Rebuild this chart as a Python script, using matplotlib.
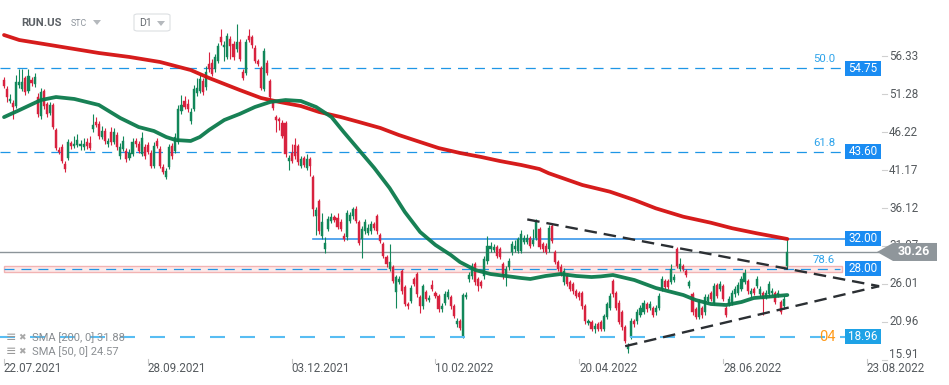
import matplotlib
matplotlib.use("Agg")
import matplotlib.pyplot as plt
import matplotlib.transforms as mtransforms
from matplotlib.patches import Polygon, Rectangle, FancyBboxPatch
import numpy as np

plt.rcParams['font.family'] = ['Roboto', 'DejaVu Sans']
plt.rcParams['lines.scale_dashes'] = False

# ---------------- data (daily candles RUN.US) ----------------
opens = [53.2, 52.0, 50.4, 50.1, 49.7, 52.5, 52.0, 53.4, 51.7, 53.2, 52.6, 50.9, 48.4, 51.7, 50.0, 48.8,
         49.8, 46.5, 43.8, 44.2, 42.0, 42.8, 44.8, 44.4, 44.5, 44.4, 44.2, 44.9, 44.8, 46.6, 47.6, 47.3,
         45.6, 46.4, 44.7, 46.3, 44.9, 45.9, 43.0, 44.0, 43.7, 42.8, 43.3, 45.0, 44.6, 43.3, 44.2, 44.5,
         43.5, 41.7, 45.0, 44.0, 41.6, 40.2, 41.6, 44.4, 43.7, 44.9, 49.0, 50.4, 50.0, 47.7, 49.3, 51.4,
         51.7, 53.0, 52.2, 55.3, 55.5, 54.6, 55.7, 58.9, 57.6, 56.3, 58.7, 58.0, 57.3, 58.2, 54.3, 54.1,
         59.0, 58.9, 57.5, 55.7, 54.8, 52.0, 55.5, 53.0, 50.2, 48.2, 48.0, 47.5, 47.4, 42.4, 43.5, 44.5,
         44.4, 41.7, 42.8, 41.5, 42.6, 40.2, 35.0, 37.0, 32.4, 30.6, 33.3, 34.4, 34.9, 34.8, 34.3, 32.4,
         32.2, 34.4, 35.0, 36.0, 34.2, 32.0, 33.0, 32.8, 33.0, 34.0, 35.0, 32.5, 31.3, 29.6, 28.0, 28.2,
         24.9, 26.3, 27.7, 25.6, 23.3, 23.7, 26.6, 27.3, 24.2, 23.0, 24.9, 23.9, 25.8, 24.8, 24.4, 22.6,
         23.5, 24.3, 24.2, 23.0, 20.6, 21.0, 19.0, 24.3, 26.6, 27.0, 28.6, 26.6, 26.2, 27.0, 29.0, 30.6,
         30.5, 30.9, 30.6, 28.6, 27.0, 28.2, 30.2, 30.6, 30.4, 30.4, 31.6, 31.6, 32.1, 31.3, 32.1, 33.3,
         31.3, 31.0, 30.6, 33.7, 30.2, 28.9, 28.3, 26.2, 27.0, 26.2, 26.0, 25.0, 24.8, 24.8, 23.0, 20.8,
         20.9, 20.0, 20.6, 20.9, 20.0, 21.6, 22.8, 26.4, 24.8, 23.5, 22.2, 20.2, 17.3, 18.9, 21.0, 21.0,
         21.9, 22.3, 23.3, 22.8, 22.8, 22.2, 22.8, 25.3, 26.4, 26.4, 26.3, 26.5, 30.6, 28.0, 28.4, 27.7,
         25.7, 24.6, 22.6, 21.6, 22.8, 22.2, 23.7, 24.8, 23.5, 25.8, 25.3, 25.7, 22.8, 23.3, 23.5, 24.6,
         24.8, 25.3, 26.3, 26.4, 24.6, 25.3, 25.7, 24.6, 24.8, 24.3, 24.6, 24.8, 24.8, 24.5, 23.6, 23.0,
         28.4]
closes = [52.4, 50.9, 50.7, 49.6, 52.9, 52.9, 52.9, 51.6, 53.7, 52.8, 53.6, 48.6, 51.6, 49.7, 48.6, 49.8,
          46.9, 44.1, 43.6, 42.4, 41.3, 44.9, 44.4, 44.7, 45.2, 44.7, 44.7, 44.4, 44.1, 47.2, 47.2, 45.7,
          46.4, 45.0, 45.0, 44.9, 46.2, 44.2, 44.2, 45.0, 42.6, 43.5, 44.9, 44.6, 43.7, 45.5, 43.0, 43.6,
          41.7, 44.4, 44.4, 41.7, 40.9, 41.0, 44.2, 43.0, 45.6, 49.3, 49.8, 49.6, 49.3, 48.9, 52.0, 52.1,
          53.3, 51.6, 54.2, 54.6, 54.0, 56.2, 57.7, 58.2, 57.9, 59.0, 57.7, 56.2, 58.2, 56.0, 53.5, 58.2,
          58.5, 57.9, 55.7, 55.3, 52.1, 57.0, 54.1, 50.9, 49.5, 47.8, 47.7, 45.7, 43.3, 42.8, 42.4, 43.0,
          42.2, 42.6, 41.9, 42.6, 41.7, 36.0, 35.8, 33.0, 34.2, 31.5, 34.6, 34.9, 34.5, 33.6, 33.3, 32.0,
          35.4, 35.2, 36.0, 34.4, 31.5, 33.3, 34.3, 33.5, 34.0, 33.5, 33.0, 31.7, 29.7, 28.6, 28.9, 26.4,
          26.9, 26.6, 25.0, 23.3, 23.0, 25.5, 26.0, 24.6, 23.0, 25.7, 24.0, 24.1, 25.3, 24.4, 22.6, 23.0,
          24.6, 24.9, 23.0, 21.7, 21.1, 20.1, 24.5, 24.5, 27.2, 28.4, 26.2, 25.7, 25.7, 29.3, 31.0, 31.0,
          30.9, 29.7, 29.6, 27.0, 28.0, 29.0, 31.3, 31.0, 32.0, 32.6, 32.1, 32.1, 31.1, 31.9, 34.2, 30.9,
          30.6, 30.3, 33.5, 31.7, 28.9, 28.0, 27.3, 27.7, 26.0, 25.3, 25.0, 24.4, 24.2, 23.0, 21.0, 21.0,
          20.0, 20.4, 20.0, 20.0, 21.7, 23.3, 24.4, 24.6, 22.8, 20.9, 20.2, 18.4, 17.7, 21.0, 20.6, 22.2,
          22.8, 23.5, 22.6, 23.3, 21.9, 22.8, 24.4, 26.6, 25.6, 25.6, 28.0, 26.9, 28.4, 28.6, 28.0, 27.2,
          26.2, 22.2, 21.6, 23.6, 21.8, 24.2, 24.2, 24.0, 25.7, 24.4, 26.0, 24.0, 21.9, 24.0, 24.8, 25.3,
          25.9, 26.6, 27.5, 25.0, 25.0, 24.8, 26.6, 25.3, 24.0, 24.8, 26.0, 25.0, 23.6, 24.8, 22.3, 24.0,
          30.26]
highs = [53.6, 52.4, 51.3, 50.5, 53.9, 54.6, 54.6, 53.7, 54.6, 53.6, 54.1, 51.5, 52.1, 52.0, 50.3, 50.2,
         50.1, 46.8, 44.2, 44.6, 42.4, 45.3, 45.1, 45.7, 46.0, 45.2, 45.4, 45.5, 45.7, 48.6, 48.2, 47.7,
         47.0, 46.8, 45.5, 46.9, 46.8, 46.3, 44.8, 45.7, 44.1, 44.0, 45.5, 45.5, 45.0, 46.2, 44.6, 44.9,
         43.9, 44.9, 45.4, 44.4, 42.0, 41.5, 44.7, 44.8, 46.1, 49.8, 51.2, 51.0, 50.6, 49.4, 52.5, 53.4,
         53.8, 53.4, 55.1, 56.9, 56.0, 56.6, 58.1, 60.0, 58.4, 59.4, 59.1, 58.4, 60.6, 58.6, 54.6, 58.6,
         60.0, 59.2, 57.8, 56.0, 55.1, 57.4, 55.9, 53.3, 50.5, 48.5, 48.3, 47.8, 47.7, 43.2, 44.6, 45.5,
         44.7, 43.0, 43.1, 43.3, 42.9, 40.5, 36.2, 37.3, 35.5, 32.2, 35.0, 35.4, 35.2, 35.4, 34.7, 32.8,
         35.8, 35.6, 36.3, 36.4, 34.5, 33.7, 34.7, 34.0, 34.4, 34.3, 35.3, 32.8, 31.6, 29.9, 31.3, 28.5,
         27.2, 27.0, 28.0, 25.9, 23.6, 25.9, 26.9, 27.6, 24.5, 26.0, 25.2, 24.5, 26.5, 25.1, 24.7, 23.4,
         25.0, 25.3, 24.5, 23.3, 21.5, 21.3, 24.8, 24.9, 27.6, 28.8, 28.9, 26.9, 26.5, 29.7, 32.4, 31.6,
         31.3, 31.2, 30.9, 28.9, 28.4, 29.4, 31.7, 31.8, 32.3, 33.2, 32.5, 32.6, 32.4, 33.3, 34.6, 33.6,
         31.6, 31.4, 33.8, 34.0, 30.5, 29.2, 28.6, 28.1, 27.3, 26.5, 26.3, 25.3, 25.1, 25.1, 23.3, 21.3,
         21.2, 20.8, 20.9, 21.2, 22.0, 23.6, 24.8, 26.7, 25.1, 23.8, 22.5, 20.5, 18.1, 21.4, 21.3, 22.6,
         23.2, 23.9, 23.6, 23.7, 23.1, 23.2, 24.8, 27.0, 26.7, 26.7, 28.7, 27.3, 30.9, 29.4, 28.7, 28.0,
         26.5, 24.9, 22.9, 24.0, 23.1, 24.6, 24.6, 25.1, 26.1, 26.1, 26.4, 26.0, 23.1, 24.4, 25.2, 25.7,
         26.3, 27.0, 28.0, 26.7, 25.4, 25.6, 27.0, 25.7, 25.1, 25.2, 26.4, 25.4, 25.1, 25.2, 23.9, 24.4,
         32.0]
lows = [52.1, 50.2, 50.1, 48.0, 49.4, 52.1, 51.7, 51.2, 51.4, 52.4, 52.3, 48.3, 48.0, 49.3, 48.2, 48.5,
        46.6, 43.9, 43.3, 42.1, 40.9, 42.5, 44.0, 44.1, 44.2, 43.9, 43.8, 44.0, 43.8, 46.3, 46.9, 45.3,
        45.3, 44.6, 44.2, 44.5, 44.6, 43.9, 42.7, 43.7, 42.3, 42.5, 43.0, 44.3, 43.4, 43.0, 42.7, 43.3,
        41.4, 41.4, 44.1, 41.4, 40.6, 40.0, 41.3, 42.7, 43.4, 44.6, 48.7, 49.3, 48.9, 47.3, 49.0, 51.1,
        51.4, 51.2, 51.9, 54.3, 53.7, 54.3, 55.4, 57.8, 55.7, 56.0, 56.0, 55.9, 56.9, 55.7, 53.2, 53.8,
        58.2, 57.5, 55.4, 55.0, 51.8, 51.7, 53.8, 50.6, 49.2, 46.3, 46.5, 45.4, 42.9, 41.2, 42.1, 42.7,
        41.9, 41.4, 41.6, 41.2, 40.4, 35.0, 32.5, 32.6, 32.0, 30.1, 33.0, 34.1, 34.2, 33.3, 33.0, 31.7,
        31.9, 34.1, 34.7, 34.1, 31.2, 29.4, 32.7, 32.5, 32.7, 33.2, 32.7, 31.4, 29.4, 28.3, 27.7, 26.1,
        22.8, 26.0, 24.7, 23.0, 22.7, 23.4, 25.7, 24.3, 22.1, 22.7, 23.7, 23.6, 25.0, 24.1, 22.3, 22.3,
        23.2, 24.0, 22.7, 21.4, 20.3, 19.8, 18.8, 24.0, 26.3, 26.7, 25.9, 25.0, 25.4, 26.7, 28.7, 30.3,
        30.2, 29.4, 29.3, 26.7, 25.7, 27.9, 29.9, 30.3, 30.1, 30.1, 31.3, 31.3, 30.8, 31.0, 31.8, 30.6,
        30.3, 30.0, 30.3, 31.4, 28.6, 27.7, 27.0, 25.9, 25.7, 25.0, 24.7, 24.1, 23.9, 22.7, 20.7, 20.5,
        19.7, 19.5, 19.7, 19.7, 19.7, 21.3, 22.5, 24.3, 22.5, 20.6, 19.9, 18.1, 16.8, 18.6, 20.3, 20.7,
        21.6, 22.0, 22.3, 22.5, 21.6, 21.9, 22.5, 25.0, 25.3, 25.3, 26.0, 26.2, 28.1, 27.7, 27.7, 26.9,
        25.4, 21.9, 21.3, 21.3, 21.5, 21.9, 23.4, 23.7, 23.2, 24.1, 25.0, 23.7, 21.6, 23.0, 23.2, 24.3,
        24.5, 25.0, 26.0, 24.7, 24.3, 24.5, 25.4, 24.3, 21.9, 24.0, 24.3, 24.5, 23.3, 24.2, 22.0, 22.7,
        28.0]

sma200_bar = [0, 5, 15, 31, 41, 51, 61, 67, 77, 84, 90, 97, 103, 110, 116, 123, 129, 136, 142, 149,
              156, 162, 169, 175, 178, 189, 198, 206, 213, 222, 231, 238, 246, 256]
sma200_val = [59.19, 58.52, 57.86, 56.79, 56.26, 55.59, 54.52, 53.46, 51.86, 50.79, 50.26, 49.72, 48.92,
              48.26, 47.59, 46.79, 45.86, 44.92, 44.12, 43.46, 42.92, 42.39, 41.86, 41.32, 40.76, 39.19,
              38.30, 37.19, 36.08, 34.96, 34.16, 33.42, 32.75, 31.99]
sma50_bar = [0, 5, 12, 17, 23, 31, 38, 44, 49, 53, 56, 61, 64, 67, 72, 77, 82, 87, 92, 97, 102, 107,
             111, 116, 121, 126, 131, 136, 141, 146, 149, 154, 159, 164, 169, 172, 177, 182, 187, 192,
             195, 199, 206, 213, 222, 226, 231, 236, 241, 245, 250, 256]
sma50_val = [48.24, 49.17, 50.51, 50.92, 50.66, 49.86, 48.12, 46.92, 46.39, 45.59, 45.19, 45.06, 45.59,
             46.52, 47.86, 48.66, 49.59, 50.26, 50.52, 50.39, 49.59, 48.26, 46.26, 43.86, 41.46, 38.79,
             35.59, 32.92, 31.19, 29.86, 28.92, 27.86, 27.32, 27.06, 26.79, 26.66, 27.06, 27.32, 27.06,
             26.92, 27.00, 27.19, 26.52, 25.46, 24.52, 23.86, 23.32, 23.19, 23.59, 24.12, 24.30, 24.52]

price_ticks = [56.33, 51.28, 46.22, 41.17, 36.12, 31.07, 26.01, 20.96, 15.91]
date_labels = ['22.07.2021', '28.09.2021', '03.12.2021', '10.02.2022', '20.04.2022', '28.06.2022', '23.08.2022']
date_bars = [0, 47, 94, 141, 188, 235, 282]

fib_levels = [54.75, 43.60, 28.00]
fib_names = ['50.0', '61.8', '78.6']
resistance = 32.00
support = 18.96
last_price = 30.26
band_low, band_high = 27.63, 28.43
upper_trend_bar = [171, 286]
upper_trend_val = [34.6, 25.7]
lower_trend_bar = [203, 286]
lower_trend_val = [17.7, 25.7]
sma_legend = ['SMA [200, 0] 31.88', 'SMA [50, 0] 24.57']

# ---------------- colours ----------------
GREEN = '#12875a'
RED = '#d8223f'
SMA200_C = '#d40f0f'
SMA50_C = '#0b7a4c'
BLUE_D = '#1e96e6'
BOX_C = '#1a8cf2'
SUPPORT_C = '#58bdf3'
GRAY = '#8c9499'
TXT = '#555a5e'

W, H = 949, 385
fig = plt.figure(figsize=(W / 100, H / 100), dpi=100)
fig.patch.set_facecolor('white')
ax = fig.add_axes([0, 0, 1, 1])
ax.set_axis_off()

# pixel mapping: bar k at x = 4 + 3.06 k ; price p at y = 68.3 + (54.75 - p) * 7.5
ax.set_xlim(-4 / 3.06, (W - 4) / 3.06)
ax.set_ylim(54.75 - (H - 68.3) / 7.5, 54.75 + 68.3 / 7.5)

def fx(px):
    return px / W

def fy(py):
    return 1 - py / H

bt = mtransforms.blended_transform_factory(ax.transAxes, ax.transData)

# ---------------- horizontal levels ----------------
ax.add_patch(Rectangle((fx(4), band_low), fx(842) - fx(4), band_high - band_low, transform=bt,
                       facecolor='#fde9e9', edgecolor='#f2b3b3', lw=1.0, zorder=1))
for lev in fib_levels:
    x_end = 840 if lev == fib_levels[-1] else 843
    x_start = 4 if lev == fib_levels[-1] else 0
    ax.axhline(lev, xmin=fx(x_start), xmax=fx(x_end), color=BLUE_D, lw=0.9,
               dashes=(7.2, 5.0), zorder=1.5)
ax.axhline(support, xmin=0, xmax=fx(845), color=SUPPORT_C, lw=1.5, dashes=(10.8, 10.8), zorder=6)
ax.axhline(resistance, xmin=fx(313), xmax=fx(845), color='#3b97ea', lw=1.2, zorder=1.5)
ax.axhline(last_price, xmin=0, xmax=fx(878), color=GRAY, lw=1.0, zorder=1.6)

# ---------------- candles ----------------
o = np.array(opens)
c = np.array(closes)
hi = np.array(highs)
lo = np.array(lows)
k = np.arange(len(c))
cols = np.where(c >= o, GREEN, RED)
ax.vlines(k, lo, hi, colors=cols, lw=0.8, zorder=3)
body_bottom = np.minimum(o, c)
body_h = np.maximum(np.abs(c - o), 0.15)
ax.bar(k, body_h, bottom=body_bottom, width=0.68, color=cols, edgecolor=cols, lw=0.3, zorder=4)

# ---------------- moving averages ----------------
ax.plot(sma200_bar, sma200_val, color=SMA200_C, lw=2.7, solid_capstyle='round', zorder=5, alpha=0.95)
ax.plot(sma50_bar, sma50_val, color=SMA50_C, lw=2.7, solid_capstyle='round', zorder=5, alpha=0.95)

# ---------------- trend lines ----------------
ax.plot(upper_trend_bar, upper_trend_val, color='#2b2f33', lw=1.7, dashes=(9, 5), zorder=6)
ax.plot(lower_trend_bar, lower_trend_val, color='#2b2f33', lw=1.7, dashes=(9, 5), zorder=6)

# ---------------- right side labels ----------------
for p in price_ticks:
    dy = ax.transData.transform((0, p))[1]
    off = max(0, 31 - dy) * 72 / 100
    ax.annotate(f'{p:.2f}', xy=(fx(889), p), xycoords=bt, xytext=(0, off), textcoords='offset points',
                ha='left', va='center', fontsize=8.4, color=TXT, zorder=2)
    ax.plot([fx(882), fx(887)], [p, p], transform=bt, color='#d0d0d0', lw=0.8, zorder=2)

def level_box(val, color):
    hgt = 15 / 7.5
    ax.add_patch(Rectangle((fx(845), val - hgt / 2), fx(881) - fx(845), hgt, transform=bt,
                           facecolor=color, edgecolor='none', zorder=10))
    ax.text(fx(863), val, f'{val:.2f}', transform=bt, ha='center', va='center',
            fontsize=8.4, color='white', zorder=11)

for lev, name in zip(fib_levels, fib_names):
    level_box(lev, BOX_C)
    ax.annotate(name, xy=(fx(835), lev), xycoords=bt, xytext=(0, 6.5), textcoords='offset points',
                ha='right', va='center', fontsize=8.2, color='#2ea3ea', zorder=7)
level_box(resistance, BOX_C)
level_box(support, '#1ea2e6')
ax.text(fx(836), support, '04', transform=bt, ha='right', va='center', fontsize=10.5,
        color='#ff9a1a', zorder=7)

# last price arrow label
hh = 9 / 7.5
ax.add_patch(Polygon([(fx(877), last_price), (fx(893), last_price + hh), (fx(937), last_price + hh),
                      (fx(937), last_price - hh), (fx(893), last_price - hh)], closed=True,
                     transform=bt, facecolor='#8f969b', edgecolor='none', zorder=10))
ax.text(fx(914), last_price, f'{last_price:.2f}', transform=bt, ha='center', va='center',
        fontsize=9, fontweight='bold', color='white', zorder=11)

# ---------------- date axis ----------------
dt = mtransforms.blended_transform_factory(ax.transData, ax.transAxes)
for b, lab in zip(date_bars, date_labels):
    ax.text(b, fy(368), lab, transform=dt, ha='left', va='center', fontsize=8.4, color=TXT)
    ax.plot([b, b], [fy(359), fy(363)], transform=dt, color='#c8c8c8', lw=0.8)

# ---------------- header ----------------
fig.text(fx(21), fy(23), 'RUN.US', ha='left', va='center', fontsize=8.2, fontweight='bold', color='#5c6166')
fig.text(fx(71), fy(24), 'STC', ha='left', va='center', fontsize=6.4, color='#8c939b')
fig.patches.append(Polygon([(fx(93), fy(20)), (fx(101), fy(20)), (fx(97), fy(25))], closed=True,
                           transform=fig.transFigure, facecolor='#b5b9bd', edgecolor='none'))
fig.patches.append(FancyBboxPatch((fx(134), fy(31)), fx(170) - fx(134), fy(14) - fy(31),
                                  boxstyle='round,pad=0,rounding_size=0.004', transform=fig.transFigure,
                                  facecolor='white', edgecolor='#dcdfe2', lw=0.8))
fig.text(fx(139), fy(23), 'D1', ha='left', va='center', fontsize=7.6, color='#666b70')
fig.patches.append(Polygon([(fx(157), fy(21)), (fx(165), fy(21)), (fx(161), fy(26))], closed=True,
                           transform=fig.transFigure, facecolor='#b5b9bd', edgecolor='none'))

# ---------------- SMA legend ----------------
for i, txt in enumerate(sma_legend):
    yy = 338 + 13.5 * i
    fig.text(fx(6), fy(yy), '\u2261', ha='left', va='center', fontsize=9, color='#9a9a9a',
             family='DejaVu Sans')
    fig.text(fx(18), fy(yy), '\u2716', ha='left', va='center', fontsize=6.5, color='#a8a8a8',
             family='DejaVu Sans')
    fig.text(fx(32), fy(yy), txt, ha='left', va='center', fontsize=8.0, color='#8a8e92')

fig.savefig('out.png', dpi=100, facecolor='white')
